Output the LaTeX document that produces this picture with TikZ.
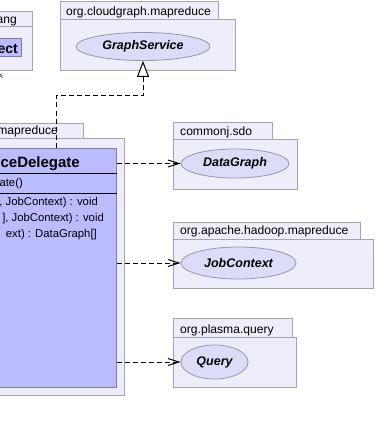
\documentclass[tikz,border=0pt]{standalone}
\usepackage{fontspec}
\setmainfont{Liberation Sans}
\usetikzlibrary{arrows.meta,shapes.geometric}
\definecolor{pkgfill}{HTML}{EEEEFA}
\definecolor{pkgline}{HTML}{A2A2B8}
\definecolor{clsfill}{HTML}{BBBBFF}
\definecolor{clsline}{HTML}{7E7EA0}
\definecolor{ifill}{HTML}{DCDCF8}
\definecolor{iline}{HTML}{9696B0}
\begin{document}
\begin{tikzpicture}[x=1pt,y=-1pt,
  pkg/.style={draw=pkgline, fill=pkgfill, line width=1pt},
  pkgfont/.style={font=\fontsize{12.1}{14}\selectfont},
  pkglabel/.style={anchor=base west, inner sep=0pt, pkgfont},
  iface/.style={ellipse, draw=iline, fill=ifill, line width=0.8pt, inner sep=0pt,
    font=\fontsize{12.5}{14}\selectfont\bfseries\itshape},
  classbox/.style={rectangle, draw=clsline, fill=clsfill, line width=1pt, inner sep=0pt},
  member/.style={anchor=base east, inner sep=0pt, font=\fontsize{11.3}{13}\selectfont},
  sep/.style={draw=black, line width=1pt},
  dep/.style={draw=black, line width=1pt, dash pattern=on 5pt off 3pt,
    -{Straight Barb[length=11pt,width=7pt]}},
  realize/.style={draw=black, line width=1pt, dash pattern=on 5pt off 3pt,
    -{Triangle[length=16pt,width=12pt,fill=white]}}
]
\useasboundingbox (0,0) rectangle (377,433);
\fill[white] (0,0) rectangle (377,433);
\clip (0,0) rectangle (377,433);

% java.lang package (left, partly outside)
\draw[pkg] (-60,12) rectangle (32,27);
\draw[pkg] (-60,27) rectangle (32,71);
\node[anchor=base east, inner sep=0pt, pkgfont] (langlbl) at (17,24) {ang};
\node[classbox, minimum width=81pt, minimum height=18pt] (obj) at (-19.5,48) {};
\node[anchor=base east, inner sep=0pt, font=\fontsize{14}{16}\selectfont\bfseries] (objlbl) at (18,53.5) {ect};
\node[anchor=base east, inner sep=0pt, font=\fontsize{6}{7}\selectfont] (amark) at (3,79) {A};

% org.cloudgraph.mapreduce package
\draw[pkg] (60,2) rectangle (218,20);
\draw[pkg] (60,20) rectangle (235,71);
\node[pkglabel] (cglbl) at (66,16) {org.cloudgraph.mapreduce};
\node[iface, minimum width=134pt, minimum height=28pt] (gs) at (143,46.5) {GraphService};

% left mapreduce package with the delegate class
\draw[pkg] (-60,123) rectangle (83,138);
\draw[pkg] (-60,138) rectangle (124,395);
\node[anchor=base east, inner sep=0pt, pkgfont] (mrlbl) at (58,134.5) {mapreduce};
\node[classbox, minimum width=176pt, minimum height=239pt] (cls) at (28,267.5) {};
\node[anchor=base east, inner sep=0pt, font=\fontsize{15}{17}\selectfont\bfseries] (clsname) at (80,167.5) {ceDelegate};
\draw[sep] (cls.west |- 0,173) -- (cls.east |- 0,173);
\node[member] (ctor) at (23,186) {ate()};
\draw[sep] (cls.west |- 0,193) -- (cls.east |- 0,193);
\node[member] (m1) at (98,205.5) {, JobContext) : void};
\node[member] (m2) at (104,221.5) {], JobContext) : void};
\node[member] (m3) at (97,237) {ext) : DataGraph[]};

% commonj.sdo package
\draw[pkg] (173,122) rectangle (272,139);
\draw[pkg] (173,139) rectangle (297,189);
\node[pkglabel] (sdolbl) at (180,135) {commonj.sdo};
\node[iface, minimum width=108pt, minimum height=29pt] (dg) at (235,163.5) {DataGraph};

% org.apache.hadoop.mapreduce package
\draw[pkg] (173,222) rectangle (360,239);
\draw[pkg] (173,239) rectangle (373,288);
\node[pkglabel] (hdlbl) at (180,234.5) {org.apache.hadoop.mapreduce};
\node[iface, minimum width=115pt, minimum height=32pt] (jc) at (238.5,263) {JobContext};

% org.plasma.query package
\draw[pkg] (173,318) rectangle (292,337);
\draw[pkg] (173,337) rectangle (296,387);
\node[pkglabel] (pqlbl) at (180,333) {org.plasma.query};
\node[iface, minimum width=67pt, minimum height=34pt] (qy) at (214.5,362) {Query};

% realization of GraphService
\coordinate (bend) at (56,96);
\draw[realize] (bend |- cls.north) -- (bend) -| (gs.south);

% usage dependencies
\draw[dep] (cls.east |- dg.west) -- (dg.west);
\draw[dep] (cls.east |- jc.west) -- (jc.west);
\draw[dep] (cls.east |- qy.west) -- (qy.west);
\end{tikzpicture}
\end{document}
